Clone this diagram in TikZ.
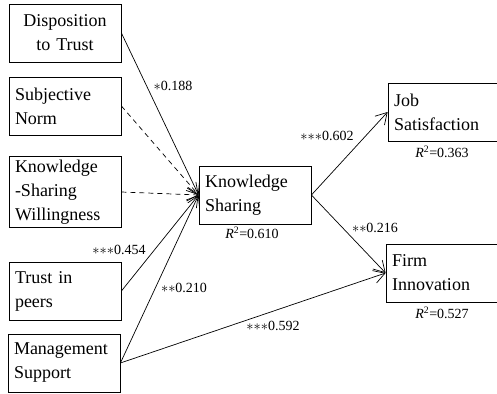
\documentclass[tikz,border=0pt]{standalone}
\usepackage{fontspec}
\setmainfont{Liberation Serif}
\usetikzlibrary{arrows.meta}

\tikzset{
    factor/.style={draw, line width=0.8pt, minimum width=112pt, minimum height=58pt,
        text width=100pt, align=left, inner xsep=6pt, font=\fontsize{18}{24}\selectfont},
    path/.style={line width=0.7pt, -{Straight Barb[length=11pt, width=13pt]}},
    coef/.style={font=\fontsize{14}{16}\selectfont, inner sep=0pt}
}
\newcommand{\rsq}[1]{\textit{R}\textsuperscript{2}=#1}
\newcommand{\st}{\ensuremath{{\ast}}}

\begin{document}
\begin{tikzpicture}[x=1pt, y=-1pt]
    \useasboundingbox (0,0) rectangle (497,393);
    \clip (0,0) rectangle (497,393);

    % Antecedents
    \node[factor, align=center] (dt)  at (65,33)  {Disposition\\to Trust};
    \node[factor] (sn)  at (65,106) {Subjective\\Norm};
    \node[factor] (ksw) at (65,192) {Knowledge\\-Sharing\\Willingness};
    \node[factor] (tp)  at (65,291) {Trust in\\peers};
    \node[factor] (ms)  at (64,363) {Management\\Support};

    % Mediator
    \node[factor] (ks) at (255,195) {Knowledge\\Sharing};
    \node[coef] at (252,233) {\rsq{0.610}};

    % Outcomes
    \node[factor] (js) at (444,112) {Job\\Satisfaction};
    \node[coef] at (442,152) {\rsq{0.363}};
    \node[factor] (fi) at (442,273) {Firm\\Innovation};
    \node[coef] at (442,313) {\rsq{0.527}};

    % Paths into knowledge sharing
    \draw[path] (dt.east) -- (ks.west);
    \draw[path, dash pattern=on 5pt off 4pt] (sn.east) -- (ks.west);
    \draw[path, dash pattern=on 5pt off 4pt] (ksw.east) -- (ks.west);
    \draw[path] (tp.east) -- (ks.west);
    \draw[path] (ms.east) -- (ks.west);

    % Paths to outcomes
    \draw[path] (ks.east) -- (js.west);
    \draw[path] (ks.east) -- (fi.west);
    \draw[path] (ms.east) -- (fi.west);

    % Coefficients
    \node[coef] at (173,86)  {\st0.188};
    \node[coef] at (119,250) {\st\st\st0.454};
    \node[coef] at (184,288) {\st\st0.210};
    \node[coef] at (327,136) {\st\st\st0.602};
    \node[coef] at (375,228) {\st\st0.216};
    \node[coef] at (273,326) {\st\st\st0.592};

\end{tikzpicture}
\end{document}
